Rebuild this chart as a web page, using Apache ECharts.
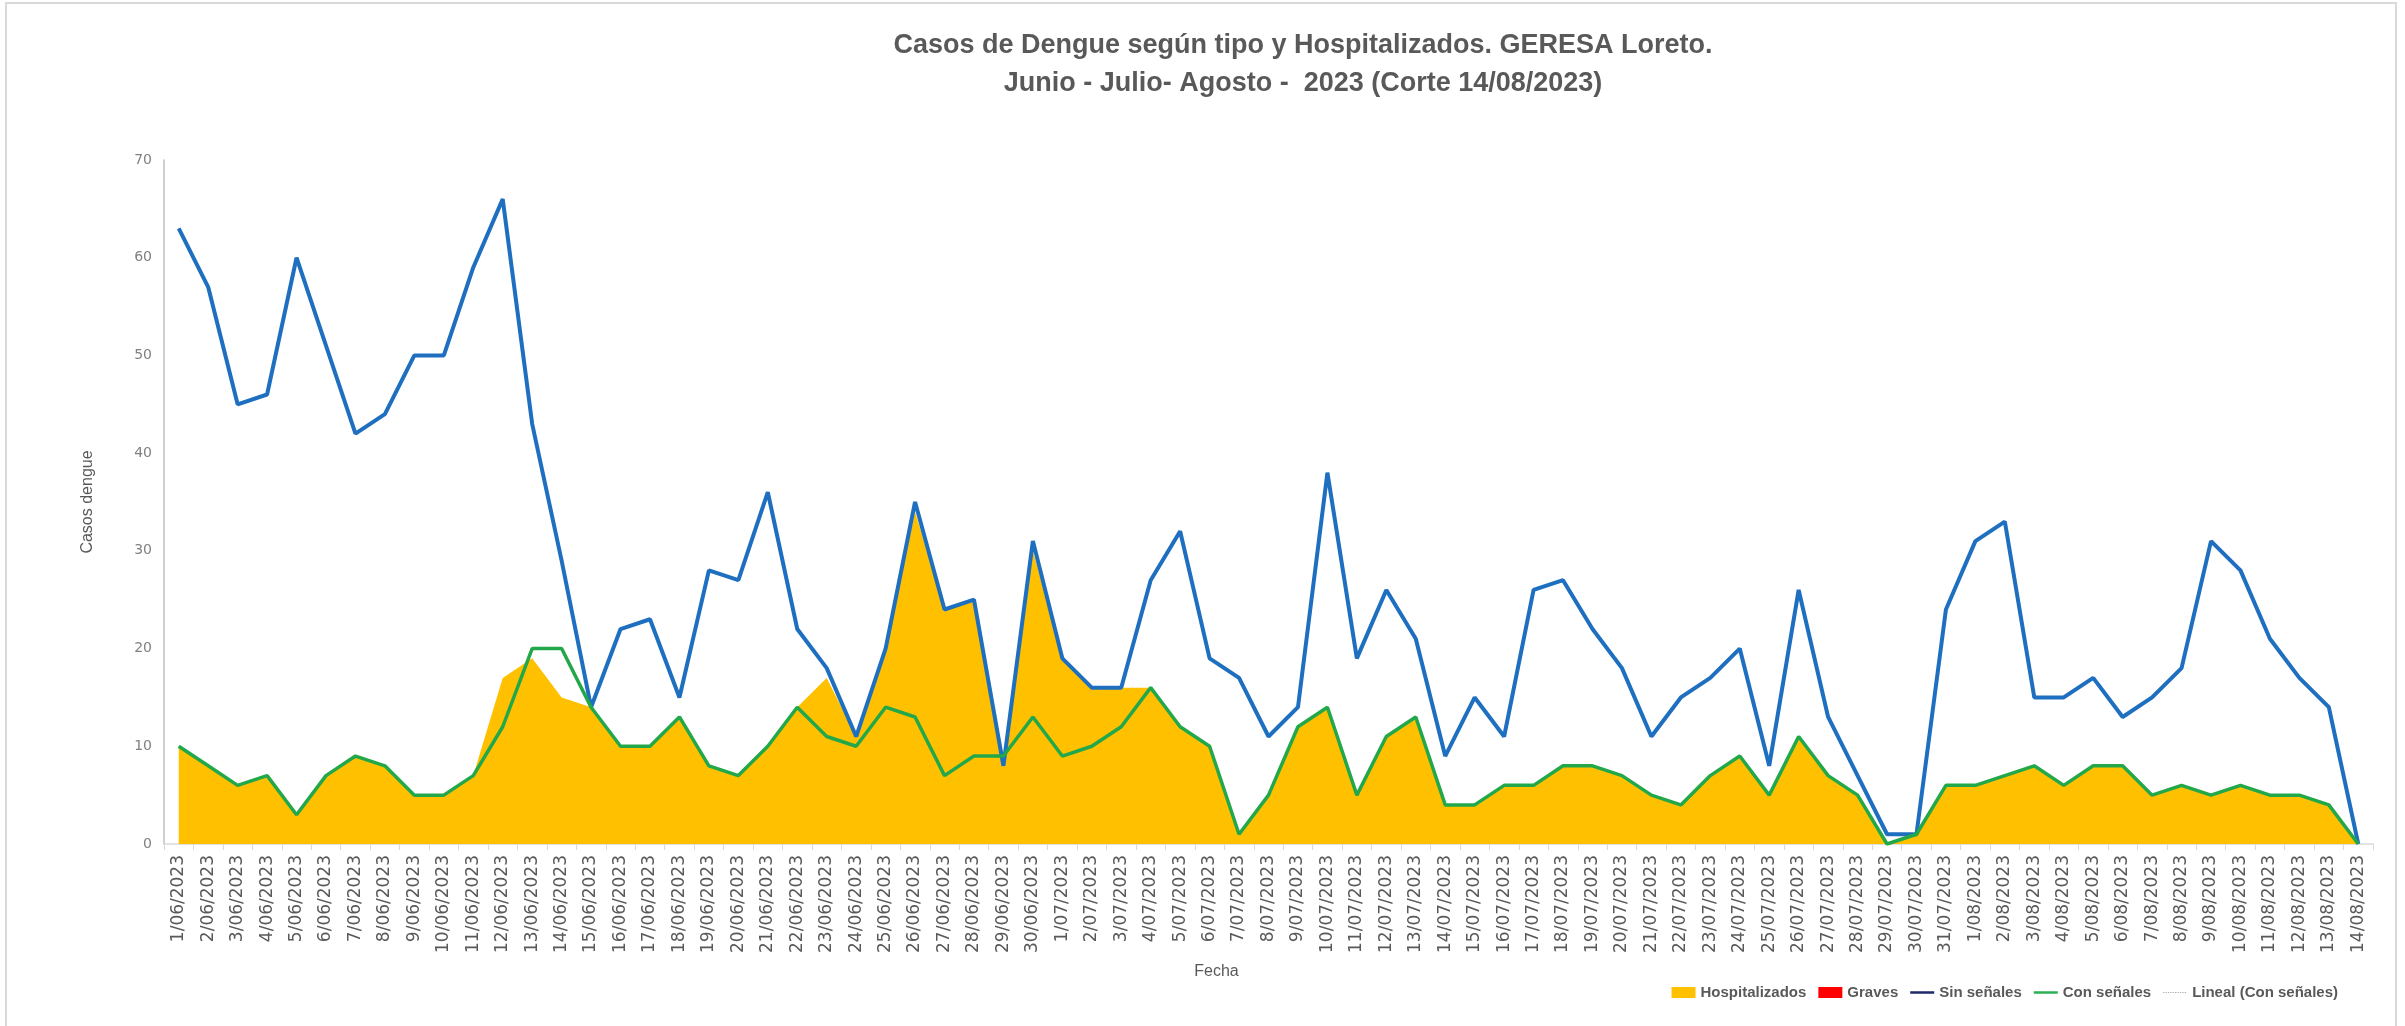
<!DOCTYPE html>
<html>
<head>
<meta charset="utf-8">
<script src="https://cdn.jsdelivr.net/npm/echarts@6/dist/echarts.min.js"></script>
<style>
html,body{margin:0;padding:0;background:#fff;}
#chart{width:2405px;height:1026px;}
</style>
</head>
<body>
<div id="chart"></div>
<script>
var fechas = ['1/06/2023','2/06/2023','3/06/2023','4/06/2023','5/06/2023','6/06/2023','7/06/2023','8/06/2023','9/06/2023','10/06/2023',
'11/06/2023','12/06/2023','13/06/2023','14/06/2023','15/06/2023','16/06/2023','17/06/2023','18/06/2023','19/06/2023','20/06/2023',
'21/06/2023','22/06/2023','23/06/2023','24/06/2023','25/06/2023','26/06/2023','27/06/2023','28/06/2023','29/06/2023','30/06/2023',
'1/07/2023','2/07/2023','3/07/2023','4/07/2023','5/07/2023','6/07/2023','7/07/2023','8/07/2023','9/07/2023','10/07/2023',
'11/07/2023','12/07/2023','13/07/2023','14/07/2023','15/07/2023','16/07/2023','17/07/2023','18/07/2023','19/07/2023','20/07/2023',
'21/07/2023','22/07/2023','23/07/2023','24/07/2023','25/07/2023','26/07/2023','27/07/2023','28/07/2023','29/07/2023','30/07/2023',
'31/07/2023','1/08/2023','2/08/2023','3/08/2023','4/08/2023','5/08/2023','6/08/2023','7/08/2023','8/08/2023','9/08/2023',
'10/08/2023','11/08/2023','12/08/2023','13/08/2023','14/08/2023'];

var hospitalizados = [10,8,6,7,3,7,9,8,5,5, 7,17,19,15,14,10,10,13,8,7, 10,14,17,11,20,34,24,25,9,30,
  19,16,16,16,12,10,1,5,12,14, 5,11,13,4,4,6,6,8,8,7, 5,4,7,9,5,11,7,5,0,1, 6,6,7,8,6,8,8,5,6,5, 6,5,5,4,0];
var graves = [0,0,0,0,0,0,0,0,0,0, 0,0,0,0,0,0,0,0,0,0, 0,0,0,0,0,0,0,0,0,0,
  0,0,0,0,0,0,0,0,0,0, 0,0,0,0,0,0,0,0,0,0, 0,0,0,0,0,0,0,0,0,0, 0,0,0,0,0,0,0,0,0,0, 0,0,0,0,0];
var sinSenales = [63,57,45,46,60,51,42,44,50,50, 59,66,43,29,14,22,23,15,28,27, 36,22,18,11,20,35,24,25,8,31,
  19,16,16,27,32,19,17,11,14,38, 19,26,21,9,15,11,26,27,22,18, 11,15,17,20,8,26,13,7,1,1, 24,31,33,15,15,17,13,15,18,31, 28,21,17,14,0];
var conSenales = [10,8,6,7,3,7,9,8,5,5, 7,12,20,20,14,10,10,13,8,7, 10,14,11,10,14,13,7,9,9,13,
  9,10,12,16,12,10,1,5,12,14, 5,11,13,4,4,6,6,8,8,7, 5,4,7,9,5,11,7,5,0,1, 6,6,7,8,6,8,8,5,6,5, 6,5,5,4,0];
var yTicks = [0,10,20,30,40,50,60,70];

// legend icons: a horizontal stroke inside a 24x11 box (tiny corner marks fix the box)
var BOX = 'M0,0 L0.01,0 L0.01,0.01 Z M23.99,10.99 L24,10.99 L24,11 Z ';
var solidIcon = 'path://' + BOX + 'M0,4.3 L24,4.3 L24,6.7 L0,6.7 Z';
var dotIcon = 'path://' + BOX + 'M0,5 L1.2,5 L1.2,6 L0,6 Z M2.4,5 L3.6,5 L3.6,6 L2.4,6 Z M4.8,5 L6,5 L6,6 L4.8,6 Z M7.2,5 L8.4,5 L8.4,6 L7.2,6 Z M9.6,5 L10.8,5 L10.8,6 L9.6,6 Z M12,5 L13.2,5 L13.2,6 L12,6 Z M14.4,5 L15.6,5 L15.6,6 L14.4,6 Z M16.8,5 L18,5 L18,6 L16.8,6 Z M19.2,5 L20.4,5 L20.4,6 L19.2,6 Z M21.6,5 L22.8,5 L22.8,6 L21.6,6 Z';

var FONT = '"Liberation Sans",sans-serif';
var chart = echarts.init(document.getElementById('chart'), null, {renderer:'canvas'});
chart.setOption({
  animation:false,
  backgroundColor:'#ffffff',
  title:{
    text:'Casos de Dengue según tipo y Hospitalizados. GERESA Loreto.\nJunio - Julio- Agosto -  2023 (Corte 14/08/2023)',
    left:1298, top:22, textAlign:'center',
    textStyle:{fontFamily:FONT, fontWeight:'bold', fontSize:27, lineHeight:38, color:'#595959'}
  },
  legend:{
    right:62, top:980, width:1000, itemWidth:24, itemHeight:11, itemGap:12,
    textStyle:{fontFamily:FONT, fontWeight:'bold', fontSize:15, color:'#595959'},
    data:[
      {name:'Hospitalizados', icon:'rect', itemStyle:{color:'#FFC000', borderWidth:0}},
      {name:'Graves', icon:'rect', itemStyle:{color:'#FF0000', borderWidth:0}},
      {name:'Sin señales', icon:solidIcon, itemStyle:{color:'#1f2a6e', borderWidth:0}},
      {name:'Con señales', icon:solidIcon, itemStyle:{color:'#2bb053', borderWidth:0}},
      {name:'Lineal (Con señales)', icon:dotIcon, itemStyle:{color:'#a6a6a6', borderWidth:0}}
    ]
  },
  grid:{left:164, right:32, top:160, bottom:182},
  xAxis:{
    type:'category', data:fechas, boundaryGap:true,
    name:'Fecha', nameLocation:'middle', nameGap:120,
    nameTextStyle:{fontFamily:FONT, fontSize:16, color:'#595959', padding:[0,104,0,0]},
    axisLine:{lineStyle:{color:'#d9d9d9', width:1.5}},
    axisTick:{show:true, interval:0, length:6, lineStyle:{color:'#d9d9d9'}},
    axisLabel:{interval:0, rotate:90, margin:11, fontFamily:'"DejaVu Sans",sans-serif', fontSize:17, color:'#595959'}
  },
  yAxis:{
    type:'value', min:yTicks[0], max:yTicks[yTicks.length-1], interval:10,
    name:'Casos dengue', nameLocation:'middle', nameGap:68, nameRotate:90,
    nameTextStyle:{fontFamily:FONT, fontSize:16, color:'#595959'},
    axisLine:{show:true, lineStyle:{color:'#bfbfbf', width:1.5}},
    axisTick:{show:false},
    splitLine:{show:false},
    axisLabel:{margin:12, fontFamily:'"DejaVu Sans",sans-serif', fontSize:14, color:'#808080'}
  },
  graphic:[{
    type:'rect', shape:{x:6, y:3, width:2390, height:1040},
    style:{fill:'none', stroke:'#d9d9d9', lineWidth:2}, silent:true, z:-10
  }],
  series:[
    {name:'Hospitalizados', type:'line', data:hospitalizados, symbol:'none',
      itemStyle:{color:'#FFC000'}, lineStyle:{width:0, color:'#FFC000'}, areaStyle:{color:'#FFC000', opacity:1}, z:1},
    {name:'Graves', type:'line', data:graves, symbol:'none',
      itemStyle:{color:'#FF0000'}, lineStyle:{width:0, color:'#FF0000'}, areaStyle:{color:'#FF0000', opacity:1}, z:2},
    {name:'Sin señales', type:'line', data:sinSenales, symbol:'none',
      itemStyle:{color:'#1e6fbf'}, lineStyle:{width:4, color:'#1e6fbf'}, z:3},
    {name:'Con señales', type:'line', data:conSenales, symbol:'none',
      itemStyle:{color:'#22a84a'}, lineStyle:{width:3.5, color:'#22a84a'}, z:4},
    {name:'Lineal (Con señales)', type:'line', data:[], symbol:'none',
      itemStyle:{color:'#a6a6a6'}, lineStyle:{width:1.5, type:'dotted', color:'#a6a6a6'}, z:5}
  ]
});
</script>
</body>
</html>
